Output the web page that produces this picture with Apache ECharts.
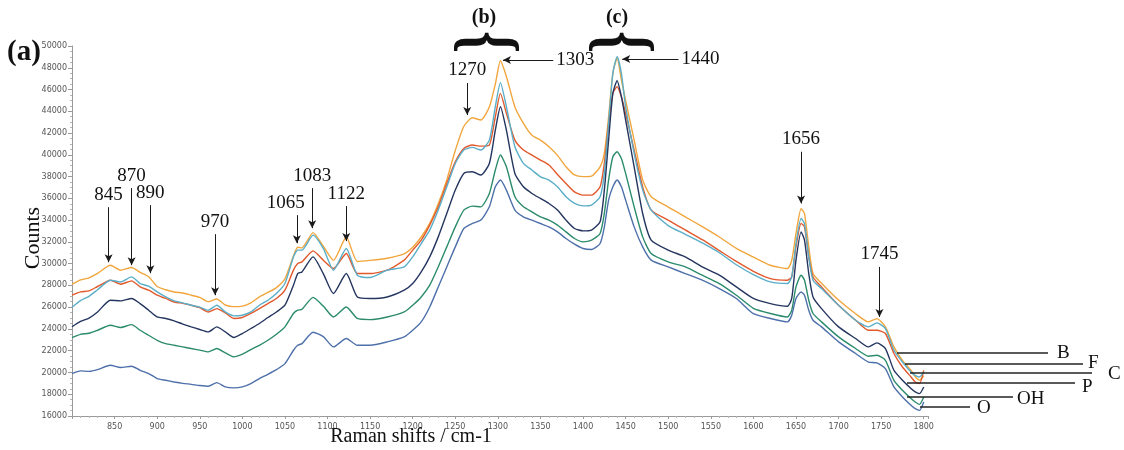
<!DOCTYPE html>
<html><head><meta charset="utf-8">
<script src="https://cdn.jsdelivr.net/npm/echarts@6/dist/echarts.min.js"></script>
<style>html,body{margin:0;padding:0;background:#fff}#c{width:1124px;height:450px}</style>
</head><body><div id="c"></div>
<script>
// ---------- data ----------
const wavenumbers = [800,810,820,830,845,857,870,880,890,900,910,920,930,940,950,960,970,980,990,1000,1010,1020,1030,1040,1050,1060,1065,1070,1083,1095,1107,1122,1135,1150,1170,1190,1200,1210,1220,1230,1240,1250,1260,1270,1280,1290,1297,1303,1310,1320,1330,1340,1350,1360,1370,1380,1390,1400,1410,1420,1425,1430,1435,1440,1445,1450,1460,1470,1480,1500,1520,1540,1560,1580,1600,1620,1640,1645,1650,1656,1660,1665,1670,1680,1700,1720,1735,1745,1755,1765,1775,1785,1790,1795,1800];

const countsB = [28100,28500,28700,29100,29850,29400,29650,29200,28800,27900,27600,27400,27300,27100,26900,26500,26750,26200,26050,26100,26400,26950,27350,27800,28600,30700,31500,31450,32850,31600,30300,32450,30200,30300,30500,30900,31500,32450,33700,35500,37700,40400,42600,43400,43200,44400,46500,48650,47200,44400,42900,41800,41350,40750,39950,38900,38150,38000,38050,38900,40150,43500,47500,48900,46900,45000,41350,37700,36150,35200,34300,33400,32450,31400,30600,29850,29550,30300,32750,35050,34600,31550,29100,28200,26650,25400,24650,24950,24200,22350,21100,20200,19600,19300,19700];

const countsF = [27100,27400,27500,27900,28480,28110,28420,27860,27560,27100,26800,26480,26350,26180,25950,25560,25870,25470,24960,25050,25420,25870,26330,26800,27560,29400,30010,30160,31170,30320,29550,30930,29090,29090,29400,30320,31240,32160,33540,35220,37370,39360,40590,40900,40800,40900,43500,45650,43810,41350,40440,39980,39520,39060,38200,37370,36600,36300,36300,37060,39210,42890,45650,46260,45340,43810,40440,37060,34920,34000,33100,32200,31200,30200,29300,28630,28480,28780,31540,33700,33380,30620,28780,27860,26180,24800,23880,23880,23580,21740,20500,19590,19130,18980,20200];

const countsC = [26000,26600,27000,27600,28480,28320,28780,28170,27930,27400,26940,26580,26400,26180,26000,25720,26180,25560,25200,25260,25560,26180,26640,27250,28170,30620,31240,31240,32620,31400,29400,31390,28940,28730,29400,29700,30620,31850,33080,34920,37060,39210,40440,40680,40440,41350,44420,46630,44420,40740,39210,38600,37980,37680,37060,36140,35530,35310,35380,36140,38290,42890,47490,49020,47490,44420,40130,36760,34920,33500,32700,31900,31000,29900,29000,28320,28170,28780,31850,34150,33690,30620,28480,27710,26180,24800,24190,24560,24040,22040,20960,20050,19740,19590,20050];

const countsP = [24200,24700,25000,25560,26640,26580,26800,26330,25720,25100,24960,24740,24450,24190,23950,23730,24190,23730,23210,23580,24040,24500,25050,25560,26180,28020,29090,29240,30620,29090,27250,29090,26940,26800,26940,27560,28170,29240,30620,32460,34610,36760,38290,38440,38140,39210,42270,44420,42270,38290,37060,36450,35990,35530,34920,34000,33230,33010,33080,33850,36760,41350,45650,46810,45340,43200,38900,34610,32160,31240,30620,29700,28940,27860,26800,26330,26090,26800,30320,32920,32160,29090,26940,25870,24190,23120,22350,22720,22200,20200,19280,18520,18210,18060,18670];

const countsOH = [23200,23500,23600,23880,24340,24130,24400,23880,23420,22960,22650,22500,22350,22200,22050,21890,22200,21800,21430,21680,22110,22500,22960,23510,24190,25420,25720,25810,26900,26100,25100,26020,24960,24860,25100,25560,26180,26940,28020,29700,31540,33380,34920,35290,35220,36450,38600,39980,38900,36140,35220,34760,34300,34000,33540,32920,32310,32000,32160,32770,34610,37680,39820,40280,39670,38290,35220,32460,30930,30160,29700,28940,28170,27100,25900,25420,25100,25720,27860,28940,28480,26640,25420,24650,23270,22200,21490,21580,21120,19280,18360,17600,17290,17070,17750];

const countsO = [19900,20150,20100,20260,20660,20450,20570,20200,19900,19440,19280,19130,19000,18910,18800,18730,19070,18670,18580,18670,18980,19440,19830,20260,20810,22040,22500,22650,23700,23300,22350,23120,22500,22500,22810,23270,23880,24650,26020,27860,29700,31540,33230,33690,34000,35220,37060,37680,36760,34920,34300,34000,33690,33380,32920,32310,31790,31390,31300,31850,33380,35840,37060,37680,37060,35840,33380,31540,30320,29700,29090,28480,27710,26800,25400,24960,24650,25260,26800,27400,27100,25720,24800,24190,22810,21740,20960,20880,20360,18670,17750,16980,16670,16520,17290];

const seriesNames = ['B','F','C','P','OH','O'];

// peak annotations (data coordinates)
const peakLabels   = ['845','870','890','970','1065','1083','1122','1270','1656','1745'];
const peakArrowX   = [843,870,892,968,1064,1082,1122,1264,1656,1748];
const peakArrowTop = [35190,36940,35380,32710,34460,36940,35290,46600,40280,29700];
const peakArrowTip = [30130,29860,29120,27100,31880,33260,32070,43650,35530,25100];
const sideLabels   = ['1303','1440'];
const sideArrowFromX = [1365,1512];
const sideArrowToX   = [1306,1446];
const sideArrowY     = [48710,48800];

// x tick labels shown
const xTickLabels = [850,900,950,1000,1050,1100,1150,1200,1250,1300,1350,1400,1450,1500,1550,1600,1650,1700,1750,1800];

// ---------- chart ----------
const colors = {B:'#F1A63D', F:'#E2592B', C:'#5AAEC8', P:'#24355F', OH:'#2B8B6C', O:'#4E70AA'};
const valuesByName = {B:countsB, F:countsF, C:countsC, P:countsP, OH:countsOH, O:countsO};
const serif = '"Liberation Serif","Times New Roman",serif';
const labelNudge = {'1065': [-11, 0]};

const markData = [];
peakLabels.forEach((t,i)=>{
  const from = {name:t, coord:[peakArrowX[i], peakArrowTop[i]]};
  if (labelNudge[t]) from.label = {offset: labelNudge[t]};
  markData.push([from,{coord:[peakArrowX[i], peakArrowTip[i]]}]);
});
sideLabels.forEach((t,i)=>{
  markData.push([{name:t, coord:[sideArrowFromX[i], sideArrowY[i]]},{coord:[sideArrowToX[i], sideArrowY[i]]}]);
});

const series = seriesNames.map((n, k) => {
  const s = {
    name: n, type: 'line', showSymbol: false, symbol: 'none',
    smooth: 0.2,
    data: wavenumbers.map((x,i)=>[x, valuesByName[n][i]]),
    lineStyle: {color: colors[n], width: 1.4},
    itemStyle: {color: colors[n]},
    z: 2 + k, animation: false
  };
  if (n === 'O') {
    s.markLine = {
      silent: true, animation: false,
      symbol: ['none','arrow'], symbolSize: [6, 8],
      lineStyle: {color:'#1a1a1a', width:1, type:'solid'},
      label: {show:true, position:'start', formatter:'{b}', fontFamily: serif, fontSize:19, color:'#111', distance:3},
      emphasis: {disabled: true},
      data: markData
    };
  }
  return s;
});

// right-side callouts for series names
const calloutY      = [353, 364, 373, 383, 397, 407];
const calloutX1     = [897, 905, 910, 907, 907, 920];
const calloutX2     = [1048, 1083, 1092, 1075, 1013, 970];
const calloutTextX  = [1057, 1088, 1108, 1082, 1017, 977];
const calloutTextY  = [353, 363, 374, 387, 399, 408];

const graphic = [];
seriesNames.forEach((n,i)=>{
  graphic.push({type:'line', shape:{x1:calloutX1[i], y1:calloutY[i], x2:calloutX2[i], y2:calloutY[i]}, style:{stroke:'#222', lineWidth:1.6}, z:50});
  graphic.push({type:'text', x:calloutTextX[i], y:calloutTextY[i], style:{text:n, font:'19px '+serif, fill:'#111', align:'left', verticalAlign:'middle'}, z:50});
});
graphic.push({type:'text', x:7, y:53, style:{text:'(a)', font:'bold 29px '+serif, fill:'#111', align:'left', verticalAlign:'middle'}, z:50});
graphic.push({type:'text', x:484, y:18, style:{text:'(b)', font:'bold 20px '+serif, fill:'#111', align:'center', verticalAlign:'middle'}, z:50});
graphic.push({type:'text', x:617, y:18, style:{text:'(c)', font:'bold 20px '+serif, fill:'#111', align:'center', verticalAlign:'middle'}, z:50});
graphic.push({type:'text', x:485, y:42, rotation:-Math.PI/2, scaleX:0.72, style:{text:'{', font:'bold 78px '+serif, fill:'#111', align:'center', verticalAlign:'middle'}, z:50});
graphic.push({type:'text', x:620, y:42, rotation:-Math.PI/2, scaleX:0.72, style:{text:'{', font:'bold 78px '+serif, fill:'#111', align:'center', verticalAlign:'middle'}, z:50});
graphic.push({type:'text', x:33, y:238, rotation:Math.PI/2, style:{text:'Counts', font:'22px '+serif, fill:'#111', align:'center', verticalAlign:'middle'}, z:50});
graphic.push({type:'text', x:411, y:437, style:{text:'Raman shifts / cm-1', font:'20px '+serif, fill:'#111', align:'center', verticalAlign:'middle'}, z:50});

const chart = echarts.init(document.getElementById('c'), null, {renderer:'canvas'});
chart.setOption({
  animation: false,
  backgroundColor: '#fff',
  grid: {left:72, top:46, width:856, height:370, containLabel:false},
  xAxis: {
    type:'value', min:800, max:1805, interval:50,
    axisLine:{show:true, lineStyle:{color:'#9a9a9a', width:1}},
    axisTick:{show:true, length:3, lineStyle:{color:'#9a9a9a'}},
    minorTick:{show:true, splitNumber:5, length:2, lineStyle:{color:'#b5b5b5'}},
    splitLine:{show:false}, minorSplitLine:{show:false},
    axisLabel:{color:'#555', fontFamily:'"DejaVu Sans",Verdana,sans-serif', fontSize:8, margin:7,
      formatter: v => xTickLabels.indexOf(v) >= 0 ? String(v) : ''}
  },
  yAxis: {
    type:'value', min:16000, max:50000, interval:2000,
    axisLine:{show:true, lineStyle:{color:'#9a9a9a', width:1}},
    axisTick:{show:true, length:4, lineStyle:{color:'#9a9a9a'}},
    minorTick:{show:true, splitNumber:4, length:2, lineStyle:{color:'#b5b5b5'}},
    splitLine:{show:false},
    axisLabel:{color:'#555', fontFamily:'"DejaVu Sans",Verdana,sans-serif', fontSize:8, margin:5,
      formatter: v => String(v)}
  },
  series: series,
  graphic: graphic
});
</script></body></html>
